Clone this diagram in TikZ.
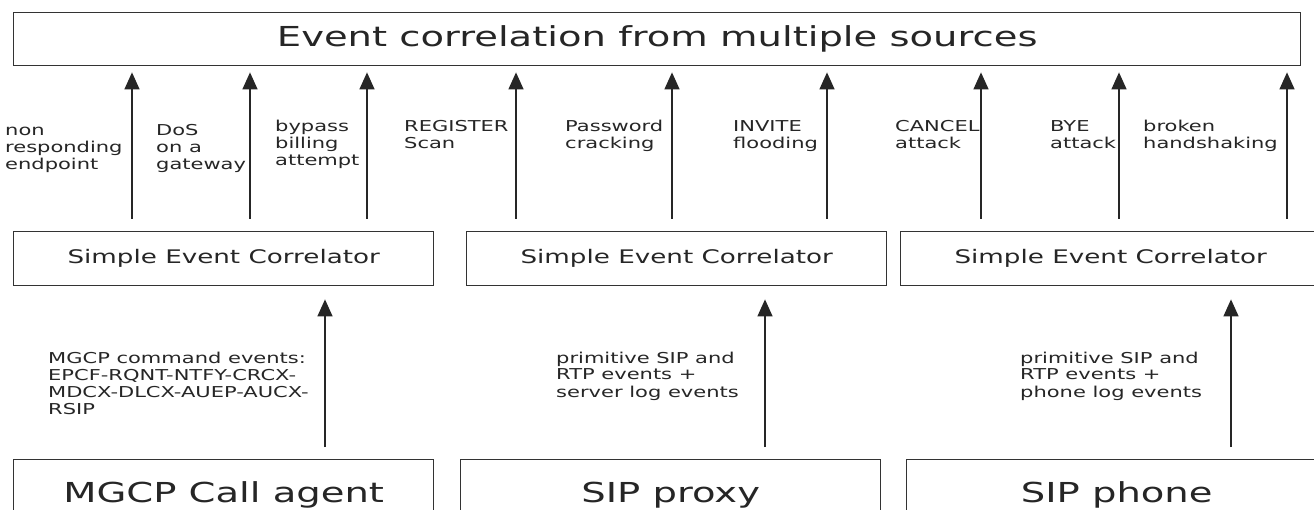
\documentclass[tikz,border=0pt]{standalone}
\usepackage{fontspec}
\setmainfont[FakeStretch=1.4]{DejaVu Sans}
\usetikzlibrary{arrows.meta,positioning}

\begin{document}
\begin{tikzpicture}[x=1pt,y=-1pt,
  boxstyle/.style={draw=black!80,line width=1.4pt,inner sep=0,minimum height=54pt,minimum width=420pt,anchor=north west,text=black!85,font=\fontsize{18.7}{22}\selectfont},
  srcstyle/.style={boxstyle,minimum height=70pt,font=\fontsize{27.5}{32}\selectfont},
  lblstyle/.style={anchor=base west,align=left,inner sep=0,text=black!85,font=\fontsize{15}{17}\selectfont},
  arr/.style={-{Triangle[length=17pt,width=15pt]},line width=1.4pt,draw=black!85}]
\clip (0,0) rectangle (1314,510);
\fill[white] (0,0) rectangle (1314,510);

\node[boxstyle,minimum width=1287pt,minimum height=53pt,font=\fontsize{27.5}{32}\selectfont] (corr) at (13,12) {Event correlation from multiple sources};

\foreach \i/\x in {1/13,2/466,3/900}
  \node[boxstyle] (sec\i) at (\x,231) {Simple Event Correlator};
\foreach \i/\x/\t in {1/13/MGCP Call agent,2/460/SIP proxy,3/906/SIP phone}
  \node[srcstyle] (src\i) at (\x,459) {\t};

% arrows
\foreach \x/\s in {132/1,250/1,367/1,516/2,672/2,827/2,981/3,1119/3,1287/3}
  \draw[arr,shorten <=12pt,shorten >=6pt] (\x,0 |- sec\s.north) -- (\x,0 |- corr.south);
\foreach \x/\s in {325/1,765/2,1231/3}
  \draw[arr,shorten <=12pt,shorten >=13pt] (\x,0 |- src\s.north) -- (\x,0 |- sec\s.south);

% labels (y = baseline of the last line)
\foreach \x/\y/\t [count=\n] in {5/170/non\\responding\\endpoint,156/170/DoS\\on a\\gateway,
    275/166/bypass\\billing\\attempt,404/149/REGISTER\\Scan,565/149/Password\\cracking,
    733/149/INVITE\\flooding,895/149/CANCEL\\attack,1050/149/BYE\\attack,1143/149/broken\\handshaking}
  \node[lblstyle] (att\n) at (\x,\y) {\t};
\foreach \x/\y/\t [count=\n] in {48/414/MGCP command events:\\EPCF-RQNT-NTFY-CRCX-\\MDCX-DLCX-AUEP-AUCX-\\RSIP,
    556/397/primitive SIP and\\RTP events +\\server log events,1020/397/primitive SIP and\\RTP events +\\phone log events}
  \node[lblstyle] (ev\n) at (\x,\y) {\t};
\end{tikzpicture}
\end{document}
